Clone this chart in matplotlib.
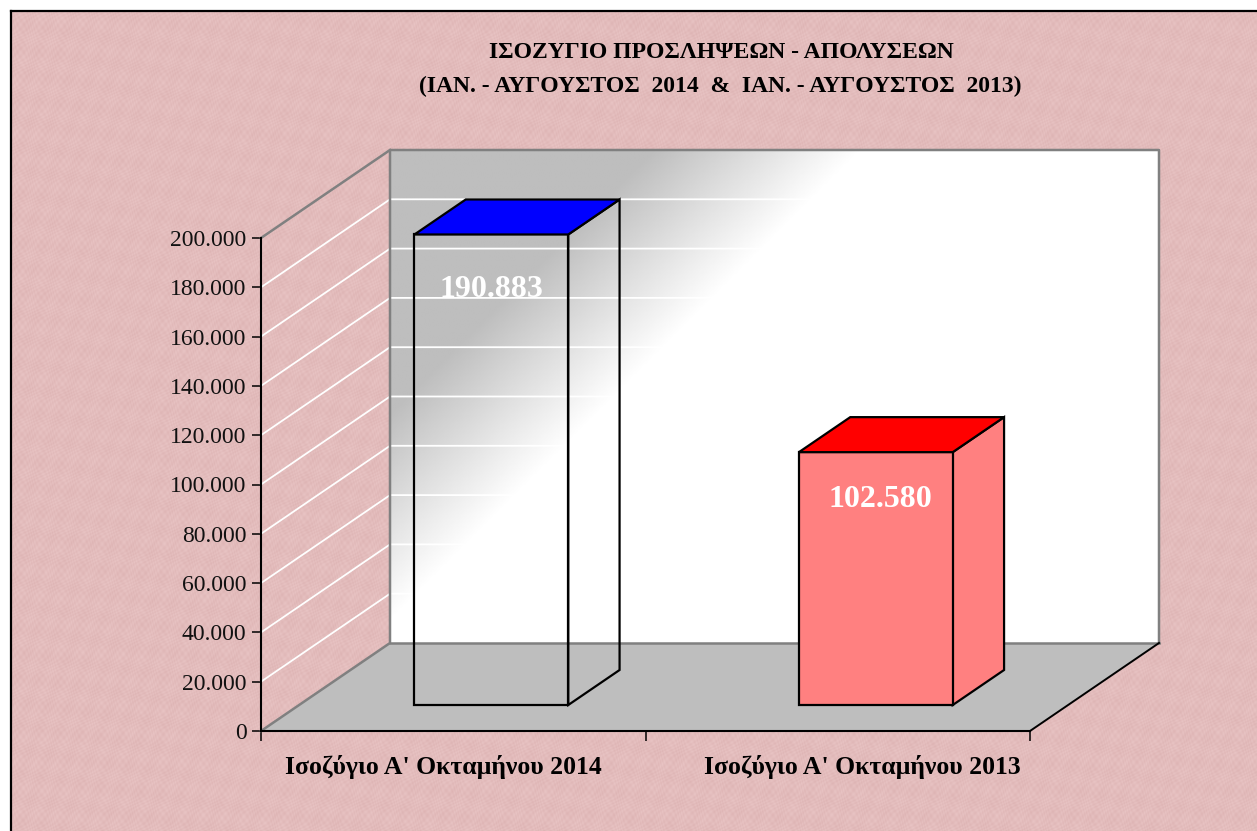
import numpy as np
import matplotlib
matplotlib.use('Agg')
import matplotlib.pyplot as plt
from matplotlib.patches import Polygon
from matplotlib.transforms import ScaledTranslation

plt.rcParams['font.family'] = ['Liberation Serif', 'DejaVu Serif']

title_lines = ['ΙΣΟΖΥΓΙΟ ΠΡΟΣΛΗΨΕΩΝ - ΑΠΟΛΥΣΕΩΝ',
               '(ΙΑΝ. - ΑΥΓΟΥΣΤΟΣ  2014  &  ΙΑΝ. - ΑΥΓΟΥΣΤΟΣ  2013)']
categories = ["Ισοζύγιο Α' Οκταμήνου 2014", "Ισοζύγιο Α' Οκταμήνου 2013"]
values = [190883, 102580]
value_labels = ['190.883', '102.580']
y_ticks = [0, 20000, 40000, 60000, 80000, 100000, 120000, 140000, 160000, 180000, 200000]
y_tick_labels = ['0', '20.000', '40.000', '60.000', '80.000', '100.000',
                 '120.000', '140.000', '160.000', '180.000', '200.000']

front_colors = ['none', '#FF8080']
side_colors = ['none', '#FF8080']
top_colors = ['#0000FF', '#FF0000']

W, H = 1257, 831
left, base, plot_w, plot_h = 261, 731, 769, 493   # front plane, in pixels
depth_px = (129, 88)
ymax = 200000

fig = plt.figure(figsize=(W / 100, H / 100), dpi=100, facecolor='white')

# paper texture behind everything
bg = fig.add_axes([0, 0, 1, 1], zorder=0)
yy, xx = np.mgrid[0:H - 11, 0:W - 11]
texture = (np.sin(xx * 0.91 + yy * 1.37 + np.sin(yy * 0.23) * 3)
           + np.sin(xx * 1.73 - yy * 0.67 + np.sin(xx * 0.31) * 3)
           + np.sin(xx * 0.13 + yy * 0.19) * np.sin(xx * 0.17 - yy * 0.07))
paper = np.stack([227 + 1.6 * texture, 188 + 2.4 * texture, 188 + 2.4 * texture], axis=-1) / 255
bg.imshow(np.clip(paper, 0, 1), extent=(11, W, H, 11), aspect='auto', interpolation='bilinear')
bg.plot([11, 11], [H, 11], color='black', lw=1.6, solid_capstyle='projecting')
bg.plot([11, W], [11, 11], color='black', lw=1.6, solid_capstyle='projecting')
bg.set_xlim(0, W)
bg.set_ylim(H, 0)
bg.axis('off')

ax = fig.add_axes([left / W, (H - base) / H, plot_w / W, plot_h / H], zorder=1)
ax.patch.set_visible(False)
ax.set_xlim(0, 2)
ax.set_ylim(0, ymax)

dx = depth_px[0] * 2 / plot_w
dy = depth_px[1] * ymax / plot_h


def proj(x, y, d):
    return x + d * dx, y + d * dy


def poly(points, **kw):
    ax.add_patch(Polygon(points, closed=True, clip_on=False, **kw))


# back wall with the diagonal gradient
sv, su = np.mgrid[0:1:400j, 0:1:700j]
diag = (391 + su * plot_w) + (150 + sv * plot_h)
shade = np.clip((diag - 805) / (1012 - 805), 0, 1)
wall = 190 + (255 - 190) * shade
wx0, wy0 = proj(0, 0, 1)
wx1, wy1 = proj(2, ymax, 1)
ax.imshow(wall, cmap='gray', vmin=0, vmax=255, extent=(wx0, wx1, wy0, wy1), aspect='auto',
          interpolation='bilinear', zorder=1, clip_on=False)
ax.set_xlim(0, 2)
ax.set_ylim(0, ymax)

# gridlines on the side wall and back wall
for v in y_ticks[1:-1]:
    xs = [proj(0, v, 0)[0], proj(0, v, 1)[0], proj(2, v, 1)[0]]
    ys = [proj(0, v, 0)[1], proj(0, v, 1)[1], proj(2, v, 1)[1]]
    ax.plot(xs, ys, color='white', lw=1.3, clip_on=False, zorder=2)

# floor
poly([proj(0, 0, 0), proj(2, 0, 0), proj(2, 0, 1), proj(0, 0, 1)], fc='#BEBEBE', ec='none', zorder=2)

# wall outlines
gray_edges = [[proj(0, 0, 0), proj(0, 0, 1), proj(0, ymax, 1), proj(2, ymax, 1), proj(2, 0, 1)],
              [proj(0, ymax, 0), proj(0, ymax, 1)],
              [proj(0, 0, 1), proj(2, 0, 1)]]
for edge in gray_edges:
    ax.plot(*zip(*edge), color='#808080', lw=1.8, clip_on=False, zorder=2.2)
ax.plot(*zip(proj(2, 0, 0), proj(2, 0, 1)), color='black', lw=1.4, clip_on=False, zorder=2.2)

# bars
bar_width = 0.4
d_front, d_back = 26 / 88, 61 / 88
label_drop_px = [55, 47]
for i, v in enumerate(values):
    x0 = i + 0.5 - bar_width / 2
    x1 = x0 + bar_width
    edge = dict(ec='black', lw=1.6, joinstyle='miter', zorder=3)
    poly([proj(x1, 0, d_front), proj(x1, 0, d_back), proj(x1, v, d_back), proj(x1, v, d_front)],
         fc=side_colors[i], **edge)
    poly([proj(x0, 0, d_front), proj(x1, 0, d_front), proj(x1, v, d_front), proj(x0, v, d_front)],
         fc=front_colors[i], **edge)
    poly([proj(x0, v, d_front), proj(x1, v, d_front), proj(x1, v, d_back), proj(x0, v, d_back)],
         fc=top_colors[i], **edge)
    ax.annotate(value_labels[i], xy=proj(i + 0.5, v, d_front), xytext=(3 * i, -label_drop_px[i] * 0.72),
                textcoords='offset points', ha='center', va='center', color='white',
                fontsize=23, fontweight='bold', zorder=4, annotation_clip=False)

for side in ['top', 'right']:
    ax.spines[side].set_visible(False)
for side in ['left', 'bottom']:
    ax.spines[side].set_color('black')
    ax.spines[side].set_linewidth(1.5)
    ax.spines[side].set_zorder(2.5)

ax.set_yticks(y_ticks)
ax.set_yticklabels(y_tick_labels, fontsize=17, color='#111111')
ax.tick_params(axis='y', direction='out', length=6.5, width=1.1, pad=4)
ax.set_xticks([0, 1, 2])
ax.set_xticklabels([])
ax.tick_params(axis='x', which='major', direction='out', length=7, width=1.1)
ax.set_xticks([0.5, 1.5], minor=True)
ax.set_xticklabels(categories, minor=True, fontsize=18.5, fontweight='bold')
ax.tick_params(axis='x', which='minor', length=0, pad=17.5)

# the category labels do not sit exactly under their ticks in the original
for lab, off_px in zip(ax.get_xticklabels(minor=True), [-10, 25]):
    lab.set_transform(lab.get_transform() + ScaledTranslation(off_px / 100, 0, fig.dpi_scale_trans))

fig.text(721 / W, 1 - 53 / H, title_lines[0], ha='center', va='center', fontsize=17, fontweight='bold')
fig.text(720 / W, 1 - 86 / H, title_lines[1], ha='center', va='center', fontsize=17, fontweight='bold')

fig.savefig('out.png', dpi=100, facecolor='white')
